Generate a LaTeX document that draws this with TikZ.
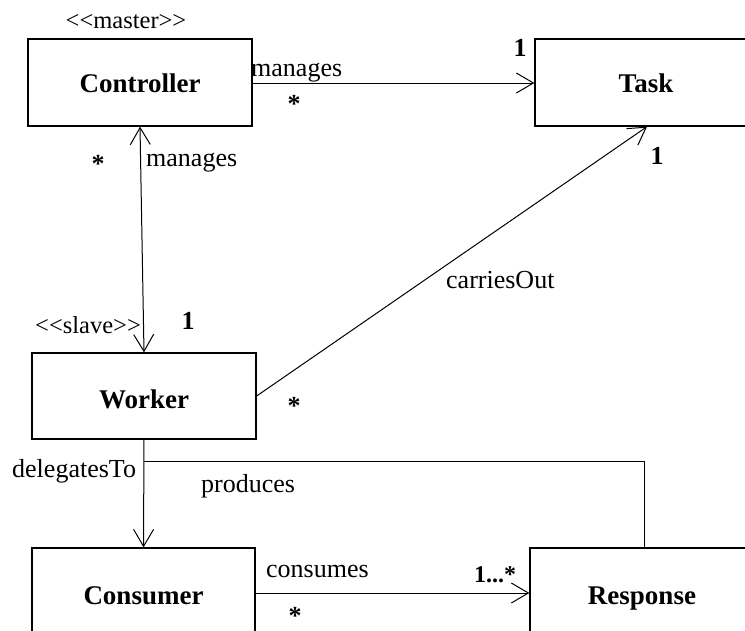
\documentclass[tikz,border=0pt]{standalone}
\usepackage{fontspec}
\setmainfont{Liberation Serif}
\usetikzlibrary{arrows.meta}
\begin{document}
\begin{tikzpicture}[x=1pt,y=-1pt,
  classbox/.style={draw,line width=1.3pt,inner sep=0pt,minimum height=87pt,
    text height=19pt,text depth=0pt,
    font=\fontsize{27}{32}\selectfont\bfseries},
  lbl/.style={inner sep=0pt,font=\fontsize{26}{30}\selectfont},
  stereo/.style={inner sep=0pt,font=\fontsize{24.5}{28}\selectfont},
  mult/.style={inner sep=0pt,font=\fontsize{26}{30}\selectfont\bfseries},
  conn/.style={line width=1pt},
  barb/.tip={Straight Barb[length=17pt,width=20pt,line width=1pt]},
  open/.style={-barb}]
\useasboundingbox (0,0) rectangle (745,630);
\clip (0,0) rectangle (745,630);
% classes
\node[classbox,minimum width=224pt] (ctrl) at (140,82.5) {Controller};
\node[classbox,minimum width=222pt] (task) at (646,82.5) {Task};
\node[classbox,text height=24pt,minimum width=224pt,minimum height=86pt] (work) at (144,396) {Worker};
\node[classbox,text height=25pt,minimum width=223pt] (cons) at (143.5,591.5) {Consumer};
\node[classbox,text height=25pt,minimum width=224pt] (resp) at (642,591.5) {Response};
% stereotypes
\node[stereo] (stm) at (126,22) {{<}{<}master{>}{>}};
\node[stereo,anchor=base west] (sts) at (35,333) {{<}{<}slave{>}{>}};
% connectors
\draw[conn,open] ([yshift=-0.5pt]ctrl.east) -- ([yshift=-0.5pt]task.west);
\draw[conn,barb-barb] (ctrl.south) -- (work.north);
\draw[conn,open] (work.east) -- ([xshift=1pt]task.south);
\draw[conn,open] (work.south) -- (cons.north);
\coordinate (pr) at ([yshift=-22pt]work.south);
\draw[conn] (pr) -| ([xshift=2pt]resp.north);
\draw[conn,open] ([yshift=-1.5pt]cons.east) -- ([yshift=-1.5pt]resp.west);
% labels
\node[lbl,anchor=base west] (l1) at (251,76) {manages};
\node[lbl,anchor=base west] (l2) at (146,166) {manages};
\node[lbl,anchor=base west] (l3) at (446,288) {carriesOut};
\node[lbl,anchor=base west] (l4) at (12,477) {delegatesTo};
\node[lbl,anchor=base west] (l5) at (201,492) {produces};
\node[lbl,anchor=base west] (l6) at (266,577) {consumes};
% multiplicities
\node[mult] (m1) at (294,104) {*};
\node[mult] (m2) at (520,48) {1};
\node[mult] (m3) at (657,156) {1};
\node[mult] (m4) at (98,164) {*};
\node[mult] (m5) at (188,321) {1};
\node[mult] (m6) at (294,406) {*};
\node[mult] (m7) at (295,616) {*};
\node[mult,anchor=base west,font=\fontsize{24}{28}\selectfont\bfseries] (m8) at (474,582) {1...*};
\end{tikzpicture}
\end{document}
